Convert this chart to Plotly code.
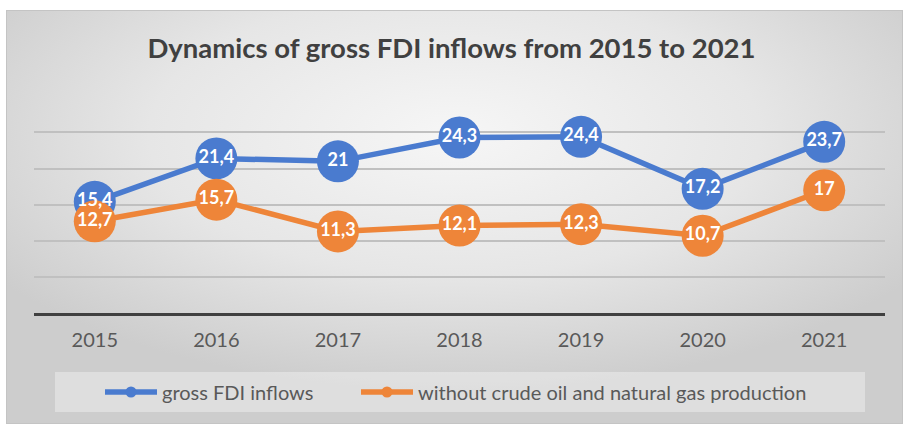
import plotly.graph_objects as go
import urllib.parse

years = ["2015", "2016", "2017", "2018", "2019", "2020", "2021"]
gross_fdi = [15.4, 21.4, 21.0, 24.3, 24.4, 17.2, 23.7]
without_oil_gas = [12.7, 15.7, 11.3, 12.1, 12.3, 10.7, 17.0]
series_names = ["gross FDI inflows", "without crude oil and natural gas production"]
title_text = "Dynamics of gross FDI inflows from 2015 to 2021"

BLUE = "#4A7BCF"
ORANGE = "#EE8539"
FONT = "Lato"


def fmt(v):
    s = ("%g" % v)
    return s.replace(".", ",")


fig = go.Figure()

for vals, col, name in [(gross_fdi, BLUE, series_names[0]), (without_oil_gas, ORANGE, series_names[1])]:
    fig.add_trace(go.Scatter(
        x=years, y=vals, mode="lines+markers", name=name, showlegend=False,
        line=dict(color=col, width=5.5),
        marker=dict(color=col, size=42, line=dict(width=0)),
        hoverinfo="skip",
    ))

# labels on top of all markers
for vals in [gross_fdi, without_oil_gas]:
    fig.add_trace(go.Scatter(
        x=years, y=vals, mode="text", showlegend=False,
        text=[fmt(v) for v in vals], textposition="middle center",
        textfont=dict(family=FONT, size=18, color="white", weight="bold"),
        hoverinfo="skip",
    ))

# legend entries
for col, name, lg in [(BLUE, series_names[0], "legend"), (ORANGE, series_names[1], "legend2")]:
    fig.add_trace(go.Scatter(
        x=[None], y=[None], mode="lines+markers", name=name, legend=lg,
        line=dict(color=col, width=5.5),
        marker=dict(color=col, size=11),
    ))

W, H = 903, 424
L, R, T, B = 34, 18, 96, 111
pw = W - L - R
ph = H - T - B


def px_x(x):
    return (x - L) / pw


def px_y(y):
    return (H - B - y) / ph


svg = (
    "<svg xmlns='http://www.w3.org/2000/svg' width='897' height='414' viewBox='0 0 897 414' preserveAspectRatio='none'>"
    "<defs><radialGradient id='g' cx='0.5' cy='0.3' r='0.62'>"
    "<stop offset='0' stop-color='#f6f6f6'/><stop offset='0.55' stop-color='#e6e6e6'/>"
    "<stop offset='1' stop-color='#cdcdcd'/></radialGradient></defs>"
    "<rect x='0.5' y='0.5' width='896' height='413' fill='url(#g)' stroke='#c4c4c4' stroke-width='1'/></svg>"
)
src = "data:image/svg+xml;charset=utf-8," + urllib.parse.quote(svg)

legend_common = dict(orientation="h", yanchor="middle", y=px_y(392), xanchor="left",
                     bgcolor="rgba(0,0,0,0)", itemwidth=52,
                     font=dict(family=FONT, size=20, color="#595959"))

fig.update_layout(
    width=W, height=H,
    margin=dict(l=L, r=R, t=T, b=B, autoexpand=False),
    paper_bgcolor="white",
    plot_bgcolor="rgba(0,0,0,0)",
    images=[dict(source=src, xref="paper", yref="paper",
                 x=px_x(6), y=px_y(10), sizex=(W - 6) / pw, sizey=(H - 10) / ph,
                 xanchor="left", yanchor="top", sizing="stretch", layer="below")],
    shapes=[dict(type="rect", xref="paper", yref="paper",
                 x0=px_x(55), x1=px_x(865), y0=px_y(412), y1=px_y(372),
                 fillcolor="rgba(255,255,255,0.35)", line=dict(width=0), layer="below")],
    title=dict(text=title_text, x=0.5, xref="container", xanchor="center",
               y=1 - 48 / H, yanchor="middle",
               font=dict(family=FONT, size=27.5, color="#404040", weight="bold")),
    xaxis=dict(showline=True, linecolor="#404040", linewidth=3, showgrid=False,
               range=[-0.5, len(years) - 0.5],
               ticks="", tickfont=dict(family=FONT, size=20, color="#595959"),
               ticklabelstandoff=7, fixedrange=True),
    yaxis=dict(range=[0, 30.05], tickvals=[5, 10, 15, 20, 25, 30], showticklabels=False, showgrid=True,
               gridcolor="#c0c0c0", gridwidth=1.5, zeroline=False, fixedrange=True),
    legend=dict(x=px_x(100), **legend_common),
    legend2=dict(x=px_x(356), **legend_common),
    showlegend=True,
)

fig.write_html("out.html", config={"displayModeBar": False},
               post_script="document.body.style.margin='0';document.body.style.overflow='hidden';")
